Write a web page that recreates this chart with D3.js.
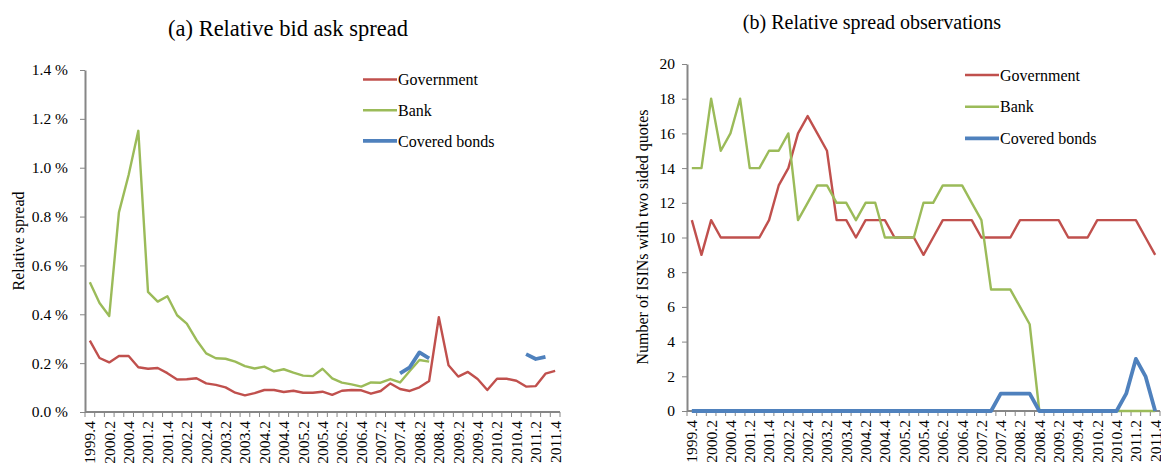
<!DOCTYPE html>
<html>
<head>
<meta charset="utf-8">
<script src="https://cdn.jsdelivr.net/npm/d3@7"></script>
<style>
  body { margin: 0; background: #fff; }
</style>
</head>
<body>
<div id="chart"></div>
<script>
// quarters on the x axis (1999 Q4 .. 2011 Q4)
var quarters = ["1999.4",
  "2000.1", "2000.2", "2000.3", "2000.4", "2001.1", "2001.2", "2001.3", "2001.4",
  "2002.1", "2002.2", "2002.3", "2002.4", "2003.1", "2003.2", "2003.3", "2003.4",
  "2004.1", "2004.2", "2004.3", "2004.4", "2005.1", "2005.2", "2005.3", "2005.4",
  "2006.1", "2006.2", "2006.3", "2006.4", "2007.1", "2007.2", "2007.3", "2007.4",
  "2008.1", "2008.2", "2008.3", "2008.4", "2009.1", "2009.2", "2009.3", "2009.4",
  "2010.1", "2010.2", "2010.3", "2010.4", "2011.1", "2011.2", "2011.3", "2011.4"];
// every other quarter gets a label
var quarterLabels = quarters.filter(function (d, i) { return i % 2 === 0; });

var seriesNames = ["Government", "Bank", "Covered bonds"];

// (a) relative bid ask spread, in percent
var govSpread = [0.292, 0.221, 0.203, 0.229, 0.229, 0.183, 0.177, 0.180, 0.159, 0.133,
  0.134, 0.138, 0.117, 0.111, 0.101, 0.079, 0.068, 0.077, 0.090, 0.090,
  0.082, 0.087, 0.079, 0.079, 0.083, 0.070, 0.087, 0.090, 0.089, 0.075,
  0.086, 0.117, 0.094, 0.086, 0.101, 0.127, 0.388, 0.191, 0.145, 0.164,
  0.135, 0.090, 0.136, 0.136, 0.128, 0.104, 0.106, 0.157, 0.168];
var bankSpread = [0.531, 0.446, 0.393, 0.817, 0.970, 1.151, 0.492, 0.452, 0.474, 0.396,
  0.362, 0.295, 0.240, 0.220, 0.218, 0.206, 0.188, 0.178, 0.186, 0.166,
  0.175, 0.161, 0.149, 0.147, 0.177, 0.138, 0.120, 0.113, 0.104, 0.121,
  0.120, 0.135, 0.121, 0.168, 0.213, 0.206, null, null, null, null,
  null, null, null, null, null, null, null, null, null];
var coveredSpread = [null, null, null, null, null, null, null, null, null, null,
  null, null, null, null, null, null, null, null, null, null,
  null, null, null, null, null, null, null, null, null, null,
  null, null, 0.158, 0.183, 0.244, 0.220, null, null, null, null,
  null, null, null, null, null, 0.237, 0.217, 0.226, null];
var spreadTicks = [0, 0.2, 0.4, 0.6, 0.8, 1.0, 1.2, 1.4];

// (b) number of ISINs with two sided quotes
var govObs = [11, 9, 11, 10, 10, 10, 10, 10, 11, 13, 14, 16, 17, 16, 15, 11, 11, 10, 11, 11,
  11, 10, 10, 10, 9, 10, 11, 11, 11, 11, 10, 10, 10, 10, 11, 11, 11, 11, 11, 10,
  10, 10, 11, 11, 11, 11, 11, 10, 9];
var bankObs = [14, 14, 18, 15, 16, 18, 14, 14, 15, 15, 16, 11, 12, 13, 13, 12, 12, 11, 12, 12,
  10, 10, 10, 10, 12, 12, 13, 13, 13, 12, 11, 7, 7, 7, 6, 5, 0, 0, 0, 0,
  0, 0, 0, 0, 0, 0, 0, 0, 0];
var coveredObs = [0, 0, 0, 0, 0, 0, 0, 0, 0, 0, 0, 0, 0, 0, 0, 0, 0, 0, 0, 0,
  0, 0, 0, 0, 0, 0, 0, 0, 0, 0, 0, 0, 1, 1, 1, 1, 0, 0, 0, 0,
  0, 0, 0, 0, 0, 1, 3, 2, 0];
var obsTicks = [0, 2, 4, 6, 8, 10, 12, 14, 16, 18, 20];

var colors = ["#C0504D", "#9BBB59", "#4F81BD"];
var widths = [2.4, 2.4, 3.8];
var axisColor = "#868686";
var serif = "'Liberation Serif', 'Times New Roman', serif";

var W = 1161, H = 466;
var svg = d3.select("#chart").append("svg")
  .attr("width", W).attr("height", H)
  .attr("viewBox", `0 0 ${W} ${H}`)
  .style("font-family", serif);

function drawPanel(opt) {
  var g = svg.append("g");

  var x = d3.scaleBand().domain(quarters).range([opt.left, opt.right]).padding(0);
  var y = d3.scaleLinear().domain(opt.yDomain).range([opt.bottom, opt.top]);
  var cx = function (q) { return x(q) + x.bandwidth() / 2; };

  // y axis
  var yAxis = g.append("g")
    .attr("transform", `translate(${opt.left},0)`)
    .call(d3.axisLeft(y).tickValues(opt.yTicks).tickFormat(opt.yFormat)
      .tickSize(5).tickSizeOuter(0).tickPadding(opt.yPad));
  yAxis.attr("font-family", serif).attr("font-size", null);
  yAxis.select(".domain").attr("stroke", axisColor).attr("stroke-width", 2);
  yAxis.selectAll(".tick line").attr("stroke", axisColor);
  yAxis.selectAll(".tick text")
    .attr("font-family", serif)
    .style("font-size", "15.5px").attr("fill", "#000");

  // x axis: boundary tick marks and rotated labels
  var xAxis = g.append("g").attr("transform", `translate(0,${opt.bottom})`);
  xAxis.append("line")
    .attr("x1", opt.left).attr("x2", opt.right)
    .attr("stroke", axisColor).attr("stroke-width", 2);
  var bounds = quarters.map(function (q) { return x(q); }).concat([opt.right]);
  xAxis.selectAll(".bt").data(bounds).enter().append("line")
    .attr("class", "bt")
    .attr("x1", function (d) { return d; }).attr("x2", function (d) { return d; })
    .attr("y1", 0).attr("y2", 5)
    .attr("stroke", axisColor);
  xAxis.selectAll(".xl").data(quarterLabels).enter().append("text")
    .attr("class", "xl")
    .attr("transform", function (d) { return `translate(${cx(d)},0) rotate(-90)`; })
    .attr("x", -9).attr("dy", "0.35em")
    .attr("text-anchor", "end")
    .attr("font-family", serif)
    .style("font-size", "15.5px")
    .text(function (d) { return d; });

  // y axis title
  g.append("text")
    .attr("transform", `translate(${opt.yLabelX},${opt.yLabelY}) rotate(-90)`)
    .attr("text-anchor", "middle")
    .attr("dy", "0.35em")
    .attr("font-family", serif)
    .style("font-size", "16px")
    .text(opt.yLabel);

  // panel title
  g.append("text")
    .attr("x", opt.titleX).attr("y", opt.titleY)
    .attr("text-anchor", "middle")
    .attr("font-family", serif)
    .style("font-size", opt.titleSize)
    .text(opt.title);

  // lines
  var line = d3.line()
    .defined(function (d) { return d != null; })
    .x(function (d, i) { return cx(quarters[i]); })
    .y(function (d) { return y(d); });

  opt.series.forEach(function (s, k) {
    g.append("path")
      .datum(s)
      .attr("fill", "none")
      .attr("stroke", colors[k])
      .attr("stroke-width", widths[k])
      .attr("stroke-linejoin", "round")
      .attr("d", line);
  });

  // legend
  var leg = g.append("g").attr("transform", `translate(${opt.legX},${opt.legY})`);
  seriesNames.forEach(function (name, k) {
    var row = leg.append("g").attr("transform", `translate(0,${k * opt.legStep})`);
    row.append("line")
      .attr("x1", 0).attr("x2", 34)
      .attr("stroke", colors[k]).attr("stroke-width", widths[k]);
    row.append("text")
      .attr("x", 35).attr("dy", "0.35em")
      .attr("font-family", serif)
      .style("font-size", "16px")
      .text(name);
  });
}

drawPanel({
  left: 85, right: 560, top: 70, bottom: 412,
  yDomain: [0, 1.4], yTicks: spreadTicks,
  yFormat: function (d) { return d3.format(".1f")(d) + " %"; },
  yPad: 12,
  yLabel: "Relative spread", yLabelX: 18, yLabelY: 241,
  title: "(a) Relative bid ask spread", titleX: 288, titleY: 36, titleSize: "22.5px",
  series: [govSpread, bankSpread, coveredSpread],
  legX: 363, legY: 79.5, legStep: 30.7
});

drawPanel({
  left: 687, right: 1160, top: 64, bottom: 411,
  yDomain: [0, 20], yTicks: obsTicks,
  yFormat: d3.format("d"),
  yPad: 7,
  yLabel: "Number of ISINs with two sided quotes", yLabelX: 642, yLabelY: 237,
  title: "(b) Relative spread observations", titleX: 872, titleY: 29, titleSize: "20px",
  series: [govObs, bankObs, coveredObs],
  legX: 965, legY: 75, legStep: 31.7
});
</script>
</body>
</html>
